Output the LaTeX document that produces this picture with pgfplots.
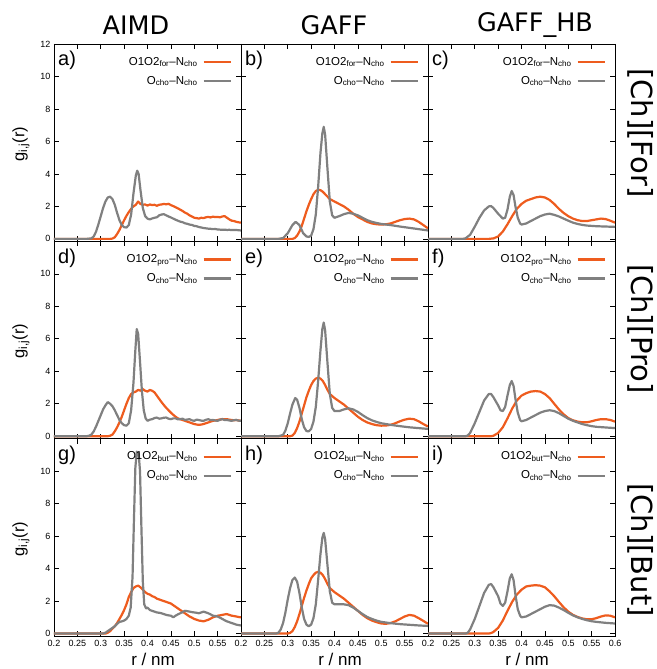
\documentclass[border=0pt]{standalone}
\usepackage{pgfplots}
\pgfplotsset{compat=1.18}
\usepackage{fontspec}
\setmainfont{Liberation Sans}
\newfontfamily\rowfont{DejaVu Sans}
\definecolor{myorange}{RGB}{238,92,30}
\definecolor{mygray}{RGB}{128,128,128}
\pgfplotsset{
  panel/.style={
    width=187pt, height=197.33pt, scale only axis, anchor=south west,
    xmin=0.2, xmax=0.6, ymin=-0.15, ymax=12,
    xtick={0.2,0.25,0.3,0.35,0.4,0.45,0.5,0.55,0.6},
    ytick={0,2,4,6,8,10,12},
    xticklabels={}, yticklabels={},
    tick align=inside, major tick length=5pt,
    tick style={black, line width=0.6pt},
    axis line style={line width=0.9pt},
    tick label style={font=\fontsize{9}{10}\selectfont},
    xticklabel style={yshift=-1pt},
    legend plot pos=right,
    legend cell align=right,
    legend image code/.code={\draw[##1] (0pt,0pt) -- (27pt,0pt);},
    legend style={draw=none, fill=none, at={(rel axis cs:1,1)}, anchor=north east,
      xshift=-9pt, yshift=-11pt, inner sep=0pt, row sep=5pt, column sep=4pt,
      font=\fontsize{11.5}{13}\selectfont,
      nodes={inner sep=1pt, text height=9pt, text depth=3pt}},
  },
  xlabA/.style={xticklabels={0.2,0.25,0.3,0.35,0.4,0.45,0.5,0.55,{}}},
  xlabC/.style={xticklabels={0.2,0.25,0.3,0.35,0.4,0.45,0.5,0.55,0.6}},
  ylabT/.style={yticklabels={0,2,4,6,8,10,12}},
  ylabO/.style={yticklabels={0,2,4,6,8,10,{}}},
  orng/.style={color=myorange, line width=2.2pt, line join=round},
  gry/.style={color=mygray, line width=2.2pt, line join=round},
}
\newcommand{\plab}[1]{\node[anchor=north west, font=\fontsize{20}{22}\selectfont, inner sep=0pt] at (rel axis cs:0,1) [xshift=4pt, yshift=-7pt] {#1};}
\begin{document}
\begin{tikzpicture}
\path[use as bounding box] (-54pt,-33pt) rectangle (602pt,636pt);
% ---------------- row 1 : [Ch][For]
\begin{axis}[panel, ylabT, at={(0pt,394.67pt)}]
\addplot[orng] coordinates {(0.2,0) (0.32,0) (0.325,0.02) (0.33,0.1) (0.335,0.3) (0.34,0.55) (0.345,0.85) (0.35,1.15) (0.355,1.42) (0.36,1.65) (0.365,1.85) (0.37,2.0) (0.375,2.1) (0.38,2.3) (0.385,2.15) (0.39,2.1) (0.395,2.12) (0.40,2.05) (0.405,2.12) (0.41,2.08) (0.415,2.1) (0.42,2.04) (0.425,2.1) (0.43,2.12) (0.435,2.15) (0.44,2.13) (0.445,2.16) (0.45,2.08) (0.455,2.02) (0.46,1.95) (0.465,1.88) (0.47,1.8) (0.475,1.72) (0.48,1.62) (0.485,1.55) (0.49,1.45) (0.495,1.38) (0.50,1.3) (0.505,1.28) (0.51,1.25) (0.515,1.3) (0.52,1.28) (0.525,1.33) (0.53,1.35) (0.535,1.32) (0.54,1.37) (0.545,1.34) (0.55,1.35) (0.555,1.33) (0.56,1.38) (0.565,1.4) (0.57,1.3) (0.575,1.2) (0.58,1.12) (0.585,1.1) (0.59,1.05) (0.595,1.02) (0.60,1.0)};
\addplot[gry] coordinates {(0.2,0) (0.27,0) (0.28,0.03) (0.285,0.15) (0.29,0.45) (0.295,0.9) (0.30,1.4) (0.305,1.9) (0.31,2.3) (0.315,2.55) (0.32,2.6) (0.325,2.45) (0.33,2.1) (0.335,1.6) (0.34,1.15) (0.345,0.85) (0.35,0.72) (0.355,0.7) (0.36,0.85) (0.365,1.5) (0.37,2.8) (0.375,3.9) (0.378,4.2) (0.381,4.0) (0.385,3.0) (0.39,1.9) (0.395,1.4) (0.40,1.25) (0.405,1.2) (0.41,1.26) (0.415,1.3) (0.42,1.33) (0.425,1.45) (0.43,1.5) (0.435,1.52) (0.44,1.45) (0.445,1.38) (0.45,1.32) (0.455,1.25) (0.46,1.18) (0.465,1.12) (0.47,1.06) (0.475,1.03) (0.48,0.96) (0.485,0.93) (0.49,0.88) (0.495,0.86) (0.50,0.8) (0.505,0.78) (0.51,0.73) (0.515,0.7) (0.52,0.67) (0.525,0.65) (0.53,0.63) (0.535,0.62) (0.54,0.6) (0.545,0.61) (0.55,0.58) (0.555,0.57) (0.56,0.56) (0.565,0.57) (0.57,0.55) (0.575,0.56) (0.58,0.54) (0.585,0.55) (0.59,0.55) (0.595,0.53) (0.60,0.52)};
\legend{O1O2\textsubscript{for}–N\textsubscript{cho}, O\textsubscript{cho}–N\textsubscript{cho}}
\plab{a)}
\end{axis}
\begin{axis}[panel, at={(187pt,394.67pt)}]
\addplot[orng] coordinates {(0.2,0) (0.31,0) (0.315,0.05) (0.32,0.2) (0.325,0.45) (0.33,0.8) (0.335,1.25) (0.34,1.7) (0.345,2.1) (0.35,2.45) (0.355,2.75) (0.36,2.95) (0.365,3.02) (0.37,3.0) (0.375,2.9) (0.38,2.75) (0.385,2.6) (0.39,2.45) (0.40,2.3) (0.41,2.15) (0.42,2.0) (0.43,1.8) (0.44,1.55) (0.45,1.35) (0.46,1.2) (0.47,1.05) (0.48,0.95) (0.49,0.9) (0.50,0.88) (0.51,0.9) (0.52,0.95) (0.53,1.05) (0.54,1.15) (0.55,1.22) (0.56,1.25) (0.57,1.2) (0.58,1.05) (0.59,0.85) (0.60,0.65)};
\addplot[gry] coordinates {(0.2,0) (0.28,0) (0.29,0.05) (0.30,0.35) (0.31,0.85) (0.317,1.05) (0.325,0.85) (0.333,0.35) (0.34,0.15) (0.345,0.12) (0.35,0.2) (0.355,0.6) (0.36,1.5) (0.365,3.2) (0.37,5.3) (0.374,6.5) (0.377,6.9) (0.38,6.4) (0.385,4.3) (0.39,2.3) (0.395,1.45) (0.40,1.3) (0.41,1.4) (0.42,1.52) (0.43,1.6) (0.44,1.55) (0.45,1.45) (0.46,1.3) (0.47,1.15) (0.48,1.05) (0.49,0.98) (0.50,0.92) (0.52,0.85) (0.54,0.76) (0.56,0.68) (0.58,0.6) (0.60,0.52)};
\legend{O1O2\textsubscript{for}–N\textsubscript{cho}, O\textsubscript{cho}–N\textsubscript{cho}}
\plab{b)}
\end{axis}
\begin{axis}[panel, at={(374pt,394.67pt)}]
\addplot[orng] coordinates {(0.2,0) (0.33,0) (0.34,0.03) (0.35,0.15) (0.36,0.45) (0.37,0.9) (0.38,1.4) (0.39,1.85) (0.40,2.15) (0.41,2.35) (0.42,2.45) (0.43,2.55) (0.44,2.6) (0.45,2.55) (0.46,2.4) (0.47,2.15) (0.48,1.85) (0.49,1.6) (0.50,1.4) (0.51,1.25) (0.52,1.15) (0.53,1.1) (0.54,1.1) (0.55,1.15) (0.56,1.2) (0.57,1.25) (0.58,1.22) (0.59,1.12) (0.60,1.0)};
\addplot[gry] coordinates {(0.2,0) (0.275,0) (0.28,0.03) (0.29,0.25) (0.30,0.75) (0.31,1.3) (0.32,1.75) (0.33,2.0) (0.335,2.02) (0.34,1.9) (0.35,1.55) (0.36,1.25) (0.365,1.3) (0.37,1.8) (0.375,2.6) (0.379,2.95) (0.383,2.7) (0.387,2.0) (0.392,1.3) (0.397,0.95) (0.40,0.88) (0.41,0.95) (0.42,1.1) (0.43,1.25) (0.44,1.4) (0.45,1.5) (0.46,1.55) (0.47,1.48) (0.48,1.38) (0.49,1.25) (0.50,1.12) (0.51,1.0) (0.52,0.92) (0.53,0.86) (0.54,0.82) (0.55,0.8) (0.56,0.78) (0.58,0.76) (0.60,0.74)};
\legend{O1O2\textsubscript{for}–N\textsubscript{cho}, O\textsubscript{cho}–N\textsubscript{cho}}
\plab{c)}
\end{axis}
% ---------------- row 2 : [Ch][Pro]
\begin{axis}[panel, ylabO, at={(0pt,197.33pt)}]
\addplot[orng] coordinates {(0.2,0) (0.315,0) (0.32,0.03) (0.325,0.1) (0.33,0.3) (0.335,0.55) (0.34,0.85) (0.345,1.2) (0.35,1.6) (0.355,2.0) (0.36,2.35) (0.365,2.6) (0.37,2.7) (0.375,2.75) (0.38,2.85) (0.385,2.8) (0.39,2.9) (0.395,2.8) (0.40,2.75) (0.405,2.85) (0.41,2.8) (0.415,2.7) (0.42,2.5) (0.425,2.3) (0.43,2.1) (0.435,1.92) (0.44,1.75) (0.445,1.6) (0.45,1.45) (0.455,1.32) (0.46,1.2) (0.465,1.1) (0.47,1.05) (0.475,1.0) (0.48,0.95) (0.485,0.9) (0.49,0.85) (0.495,0.8) (0.50,0.75) (0.505,0.72) (0.51,0.7) (0.515,0.72) (0.52,0.75) (0.525,0.8) (0.53,0.85) (0.535,0.9) (0.54,0.95) (0.545,0.97) (0.55,1.0) (0.555,1.03) (0.56,1.06) (0.565,1.04) (0.57,1.05) (0.575,1.02) (0.58,1.0) (0.585,0.98) (0.59,1.0) (0.595,0.97) (0.60,0.95)};
\addplot[gry] coordinates {(0.2,0) (0.27,0) (0.275,0.03) (0.28,0.1) (0.285,0.3) (0.29,0.6) (0.295,0.95) (0.30,1.3) (0.305,1.65) (0.31,1.9) (0.315,2.1) (0.32,2.0) (0.325,1.85) (0.33,1.6) (0.335,1.3) (0.34,1.0) (0.345,0.8) (0.35,0.68) (0.355,0.65) (0.36,0.8) (0.365,1.6) (0.37,3.3) (0.374,5.3) (0.377,6.6) (0.38,6.3) (0.384,4.6) (0.388,2.8) (0.392,1.6) (0.396,1.1) (0.40,0.95) (0.405,1.02) (0.41,1.05) (0.415,1.12) (0.42,1.15) (0.425,1.08) (0.43,1.1) (0.435,1.14) (0.44,1.15) (0.445,1.08) (0.45,1.05) (0.455,1.1) (0.46,1.1) (0.465,1.04) (0.47,1.05) (0.475,1.08) (0.48,1.0) (0.485,1.03) (0.49,1.05) (0.495,0.98) (0.50,0.95) (0.505,1.02) (0.51,1.0) (0.515,0.96) (0.52,0.95) (0.525,1.01) (0.53,1.05) (0.535,0.99) (0.54,1.0) (0.545,0.97) (0.55,0.95) (0.555,1.01) (0.56,1.05) (0.565,1.0) (0.57,1.0) (0.575,0.97) (0.58,0.95) (0.585,0.99) (0.59,1.0) (0.595,0.96) (0.60,0.95)};
\legend{O1O2\textsubscript{pro}–N\textsubscript{cho}, O\textsubscript{cho}–N\textsubscript{cho}}
\plab{d)}
\end{axis}
\begin{axis}[panel, at={(187pt,197.33pt)}]
\addplot[orng] coordinates {(0.2,0) (0.305,0) (0.31,0.04) (0.315,0.2) (0.32,0.5) (0.325,0.9) (0.33,1.4) (0.335,1.9) (0.34,2.4) (0.345,2.8) (0.35,3.15) (0.355,3.4) (0.36,3.55) (0.365,3.6) (0.37,3.55) (0.375,3.4) (0.38,3.15) (0.385,2.85) (0.39,2.6) (0.40,2.35) (0.41,2.15) (0.42,1.95) (0.43,1.7) (0.44,1.45) (0.45,1.2) (0.46,1.0) (0.47,0.85) (0.48,0.75) (0.49,0.68) (0.50,0.65) (0.51,0.66) (0.52,0.7) (0.53,0.8) (0.54,0.92) (0.55,1.02) (0.56,1.08) (0.57,1.05) (0.58,0.92) (0.59,0.75) (0.60,0.6)};
\addplot[gry] coordinates {(0.2,0) (0.28,0) (0.29,0.08) (0.295,0.35) (0.30,0.8) (0.305,1.4) (0.31,1.95) (0.316,2.35) (0.32,2.25) (0.325,1.75) (0.33,1.05) (0.335,0.55) (0.34,0.32) (0.345,0.3) (0.35,0.45) (0.355,0.9) (0.36,1.8) (0.365,3.4) (0.37,5.3) (0.374,6.6) (0.377,7.0) (0.38,6.5) (0.385,4.5) (0.39,2.6) (0.395,1.75) (0.40,1.55) (0.41,1.55) (0.42,1.65) (0.43,1.72) (0.44,1.65) (0.45,1.5) (0.46,1.3) (0.47,1.12) (0.48,0.98) (0.49,0.88) (0.50,0.8) (0.52,0.7) (0.54,0.62) (0.56,0.55) (0.58,0.5) (0.60,0.45)};
\legend{O1O2\textsubscript{pro}–N\textsubscript{cho}, O\textsubscript{cho}–N\textsubscript{cho}}
\plab{e)}
\end{axis}
\begin{axis}[panel, at={(374pt,197.33pt)}]
\addplot[orng] coordinates {(0.2,0) (0.335,0) (0.34,0.03) (0.35,0.2) (0.36,0.55) (0.37,1.1) (0.38,1.7) (0.39,2.2) (0.40,2.5) (0.41,2.65) (0.42,2.75) (0.43,2.78) (0.44,2.75) (0.45,2.6) (0.46,2.35) (0.47,2.0) (0.48,1.65) (0.49,1.35) (0.50,1.12) (0.51,0.98) (0.52,0.9) (0.53,0.86) (0.54,0.86) (0.55,0.92) (0.56,1.0) (0.57,1.05) (0.58,1.05) (0.59,1.0) (0.60,0.9)};
\addplot[gry] coordinates {(0.2,0) (0.28,0) (0.285,0.04) (0.29,0.2) (0.30,0.8) (0.31,1.5) (0.32,2.2) (0.33,2.6) (0.335,2.6) (0.34,2.4) (0.35,1.9) (0.355,1.6) (0.36,1.55) (0.365,1.8) (0.37,2.5) (0.375,3.15) (0.379,3.4) (0.383,3.1) (0.387,2.3) (0.392,1.45) (0.397,1.0) (0.40,0.92) (0.41,1.0) (0.42,1.15) (0.43,1.3) (0.44,1.45) (0.45,1.55) (0.46,1.6) (0.47,1.55) (0.48,1.42) (0.49,1.25) (0.50,1.08) (0.51,0.95) (0.52,0.85) (0.53,0.75) (0.54,0.68) (0.55,0.62) (0.56,0.58) (0.58,0.54) (0.60,0.5)};
\legend{O1O2\textsubscript{pro}–N\textsubscript{cho}, O\textsubscript{cho}–N\textsubscript{cho}}
\plab{f)}
\end{axis}
% ---------------- row 3 : [Ch][But]
\begin{axis}[panel, ylabO, xlabA, at={(0pt,0pt)}]
\addplot[orng] coordinates {(0.2,0) (0.31,0) (0.315,0.05) (0.32,0.15) (0.325,0.3) (0.33,0.45) (0.335,0.65) (0.34,0.9) (0.345,1.15) (0.35,1.45) (0.355,1.8) (0.36,2.25) (0.365,2.55) (0.37,2.8) (0.375,2.9) (0.38,2.95) (0.385,2.85) (0.39,2.7) (0.395,2.55) (0.40,2.45) (0.405,2.4) (0.41,2.3) (0.415,2.25) (0.42,2.15) (0.425,2.1) (0.43,2.05) (0.435,2.0) (0.44,1.95) (0.445,1.9) (0.45,1.85) (0.455,1.75) (0.46,1.65) (0.465,1.55) (0.47,1.45) (0.475,1.35) (0.48,1.25) (0.485,1.15) (0.49,1.05) (0.495,0.98) (0.50,0.9) (0.505,0.85) (0.51,0.8) (0.515,0.78) (0.52,0.75) (0.525,0.8) (0.53,0.85) (0.535,0.92) (0.54,1.0) (0.545,1.05) (0.55,1.1) (0.555,1.12) (0.56,1.15) (0.565,1.18) (0.57,1.2) (0.575,1.15) (0.58,1.1) (0.585,1.08) (0.59,1.05) (0.595,1.02) (0.60,1.0)};
\addplot[gry] coordinates {(0.2,0) (0.305,0) (0.31,0.05) (0.315,0.15) (0.32,0.25) (0.325,0.35) (0.33,0.45) (0.335,0.6) (0.34,0.72) (0.345,0.75) (0.35,0.8) (0.355,0.9) (0.36,1.1) (0.364,1.6) (0.368,3.5) (0.371,7.0) (0.374,10.2) (0.377,11.2) (0.381,11.1) (0.384,10.0) (0.387,6.5) (0.39,3.2) (0.393,1.8) (0.397,1.55) (0.40,1.6) (0.405,1.45) (0.41,1.4) (0.415,1.35) (0.42,1.3) (0.425,1.28) (0.43,1.25) (0.435,1.2) (0.44,1.15) (0.445,1.12) (0.45,1.1) (0.455,1.0) (0.46,1.1) (0.465,1.18) (0.47,1.25) (0.475,1.32) (0.48,1.4) (0.485,1.38) (0.49,1.35) (0.495,1.32) (0.50,1.3) (0.505,1.28) (0.51,1.25) (0.515,1.3) (0.52,1.35) (0.525,1.3) (0.53,1.25) (0.535,1.18) (0.54,1.1) (0.545,1.08) (0.55,1.05) (0.555,0.98) (0.56,0.9) (0.565,0.82) (0.57,0.75) (0.575,0.7) (0.58,0.65) (0.585,0.6) (0.59,0.55) (0.595,0.52) (0.60,0.5)};
\legend{O1O2\textsubscript{but}–N\textsubscript{cho}, O\textsubscript{cho}–N\textsubscript{cho}}
\plab{g)}
\end{axis}
\begin{axis}[panel, xlabA, at={(187pt,0pt)}]
\addplot[orng] coordinates {(0.2,0) (0.30,0) (0.305,0.04) (0.31,0.15) (0.315,0.4) (0.32,0.75) (0.325,1.2) (0.33,1.7) (0.335,2.2) (0.34,2.65) (0.345,3.05) (0.35,3.4) (0.355,3.6) (0.36,3.75) (0.365,3.8) (0.37,3.75) (0.375,3.6) (0.38,3.35) (0.385,3.05) (0.39,2.8) (0.40,2.55) (0.41,2.35) (0.42,2.15) (0.43,1.9) (0.44,1.65) (0.45,1.4) (0.46,1.15) (0.47,0.95) (0.48,0.8) (0.49,0.7) (0.50,0.62) (0.51,0.6) (0.52,0.65) (0.53,0.75) (0.54,0.9) (0.55,1.05) (0.56,1.15) (0.57,1.1) (0.58,0.95) (0.59,0.78) (0.60,0.6)};
\addplot[gry] coordinates {(0.2,0) (0.275,0) (0.28,0.05) (0.285,0.25) (0.29,0.65) (0.295,1.3) (0.30,2.1) (0.305,2.8) (0.31,3.3) (0.315,3.45) (0.32,3.2) (0.325,2.5) (0.33,1.6) (0.335,0.9) (0.34,0.55) (0.345,0.45) (0.35,0.55) (0.355,0.95) (0.36,1.8) (0.365,3.3) (0.37,4.9) (0.374,5.9) (0.377,6.2) (0.38,5.8) (0.385,4.2) (0.39,2.6) (0.395,1.9) (0.40,1.8) (0.41,1.8) (0.42,1.8) (0.43,1.75) (0.44,1.6) (0.45,1.4) (0.46,1.2) (0.47,1.02) (0.48,0.9) (0.49,0.8) (0.50,0.72) (0.52,0.64) (0.54,0.58) (0.56,0.54) (0.58,0.5) (0.60,0.47)};
\legend{O1O2\textsubscript{but}–N\textsubscript{cho}, O\textsubscript{cho}–N\textsubscript{cho}}
\plab{h)}
\end{axis}
\begin{axis}[panel, xlabC, at={(374pt,0pt)}]
\addplot[orng] coordinates {(0.2,0) (0.33,0) (0.335,0.03) (0.34,0.1) (0.35,0.35) (0.36,0.8) (0.37,1.4) (0.38,1.95) (0.39,2.4) (0.40,2.7) (0.41,2.9) (0.42,2.95) (0.43,2.98) (0.44,2.95) (0.45,2.85) (0.46,2.6) (0.47,2.3) (0.48,1.95) (0.49,1.62) (0.50,1.35) (0.51,1.15) (0.52,1.02) (0.53,0.93) (0.54,0.88) (0.55,0.88) (0.56,0.95) (0.57,1.05) (0.58,1.12) (0.59,1.1) (0.60,1.0)};
\addplot[gry] coordinates {(0.2,0) (0.28,0) (0.285,0.05) (0.29,0.25) (0.30,0.9) (0.31,1.7) (0.32,2.5) (0.33,3.0) (0.335,3.05) (0.34,2.85) (0.35,2.3) (0.355,1.85) (0.36,1.7) (0.365,1.9) (0.37,2.6) (0.375,3.4) (0.379,3.65) (0.383,3.3) (0.387,2.4) (0.392,1.5) (0.397,1.1) (0.40,1.0) (0.41,1.05) (0.42,1.2) (0.43,1.35) (0.44,1.5) (0.45,1.65) (0.46,1.75) (0.47,1.72) (0.48,1.6) (0.49,1.45) (0.50,1.28) (0.51,1.12) (0.52,1.0) (0.53,0.9) (0.54,0.82) (0.55,0.76) (0.56,0.72) (0.58,0.66) (0.60,0.62)};
\legend{O1O2\textsubscript{but}–N\textsubscript{cho}, O\textsubscript{cho}–N\textsubscript{cho}}
\plab{i)}
\end{axis}
% ---------------- titles and labels
\node[font=\fontsize{25.5}{28}\rowfont] at (82pt,611pt) {AIMD};
\node[font=\fontsize{25.5}{28}\rowfont] at (280pt,611pt) {GAFF};
\node[font=\fontsize{25.5}{28}\rowfont] at (481pt,611pt) {GAFF\_HB};
\node[font=\fontsize{29}{32}\rowfont, rotate=-90] at (587pt,503pt) {[Ch][For]};
\node[font=\fontsize{29}{32}\rowfont, rotate=-90] at (587pt,307pt) {[Ch][Pro]};
\node[font=\fontsize{29}{32}\rowfont, rotate=-90] at (587pt,86pt) {[Ch][But]};
\foreach \yy in {492,295,97}
  \node[font=\fontsize{16.5}{18}\selectfont, rotate=90] at (-33pt,\yy pt) {g\textsubscript{i,j}(r)};
\foreach \xx in {99,286,473}
  \node[font=\fontsize{17}{18}\selectfont, anchor=base, inner sep=0pt] at (\xx pt,-29.5pt) {r / nm};
\end{tikzpicture}
\end{document}
